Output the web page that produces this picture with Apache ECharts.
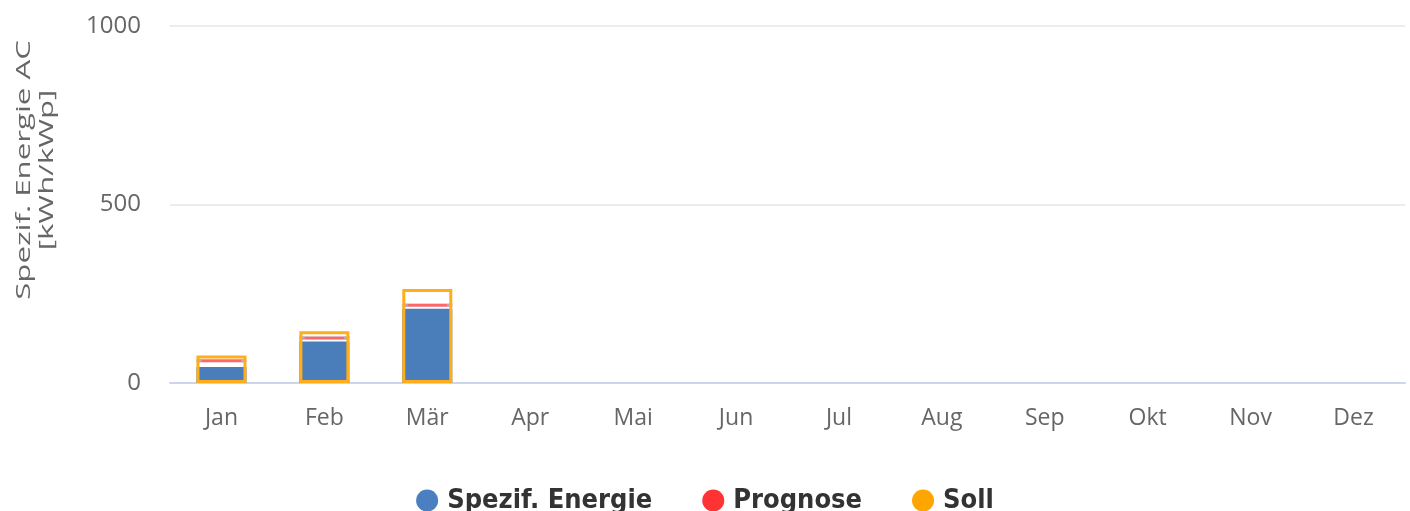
<!DOCTYPE html>
<html>
<head>
<meta charset="utf-8">
<script src="https://cdn.jsdelivr.net/npm/echarts@6/dist/echarts.min.js"></script>
<style>
html,body{margin:0;padding:0;background:#fff;}
#chart{width:1410px;height:511px;}
</style>
</head>
<body>
<div id="chart"></div>
<script>
const months = ['Jan','Feb','Mär','Apr','Mai','Jun','Jul','Aug','Sep','Okt','Nov','Dez'];
const spezifEnergie = [45, 116, 208, null, null, null, null, null, null, null, null, null];
const prognose = [62, 126, 218, null, null, null, null, null, null, null, null, null];
const soll = [77, 145, 263, null, null, null, null, null, null, null, null, null];
const yTicks = [0, 500, 1000];

const chart = echarts.init(document.getElementById('chart'), null, {renderer: 'canvas'});
const FONT = '"Open Sans", "DejaVu Sans", sans-serif';
const LEGEND_FONT = '"DejaVu Sans Condensed", "Liberation Sans Narrow", "Open Sans", sans-serif';
const ELLIPSE = 'path://M50,0 A50,50 0 1,1 50,100 A50,50 0 1,1 50,0 Z';

chart.setOption({
  animation: false,
  backgroundColor: '#ffffff',
  color: ['#4a7ebb', '#ff0000', '#ffa500'],
  grid: {left: 170, right: 5, top: 26, bottom: 128, containLabel: false},
  legend: {
    top: 482,
    left: 'center',
    icon: ELLIPSE,
    itemWidth: 22,
    itemHeight: 26,
    itemGap: 50,
    textStyle: {fontFamily: LEGEND_FONT, fontWeight: 'bold', fontSize: 27, color: '#333333', padding: [0, 0, 0, 4]},
    data: [
      {name: 'Spezif. Energie', itemStyle: {color: '#4a7fc1', borderWidth: 0}},
      {name: 'Prognose', itemStyle: {color: '#ff0000', borderWidth: 0}},
      {name: 'Soll', itemStyle: {color: '#ffa500', borderWidth: 0}}
    ]
  },
  xAxis: {
    type: 'category',
    data: months,
    axisLine: {lineStyle: {color: '#ccd6eb', width: 2}},
    axisTick: {show: false},
    axisLabel: {color: '#666666', fontSize: 23, fontFamily: FONT, margin: 24}
  },
  yAxis: {
    type: 'value',
    min: yTicks[0],
    max: yTicks[yTicks.length - 1],
    interval: yTicks[1] - yTicks[0],
    axisLine: {show: false},
    axisTick: {show: false},
    axisLabel: {color: '#666666', fontSize: 24, fontFamily: FONT, margin: 29, formatter: v => String(v)},
    splitLine: {lineStyle: {color: '#e6e6e6', width: 1.5}}
  },
  graphic: [{
    type: 'text',
    x: 36,
    y: 170,
    rotation: Math.PI / 2,
    scaleX: 1.56,
    style: {
      text: 'Spezif. Energie AC\n[kWh/kWp]',
      align: 'center',
      verticalAlign: 'middle',
      fill: '#666666',
      font: '20px ' + FONT,
      lineHeight: 23
    }
  }],
  series: [
    {
      name: 'Spezif. Energie',
      type: 'bar',
      data: spezifEnergie,
      barWidth: 50,
      barGap: '-100%',
      itemStyle: {color: '#4a7ebb'},
      z: 2
    },
    {
      name: 'Prognose',
      type: 'scatter',
      data: prognose,
      symbol: 'rect',
      symbolSize: [45, 3],
      itemStyle: {color: '#ff4040', borderColor: 'rgba(160,190,230,0.85)', borderWidth: 1.5},
      z: 3
    },
    {
      name: 'Soll',
      type: 'bar',
      data: soll,
      barWidth: 50,
      barGap: '-100%',
      itemStyle: {color: 'rgba(255,255,255,0)', borderColor: '#ffad1a', borderWidth: 3},
      z: 4
    }
  ]
});
</script>
</body>
</html>
